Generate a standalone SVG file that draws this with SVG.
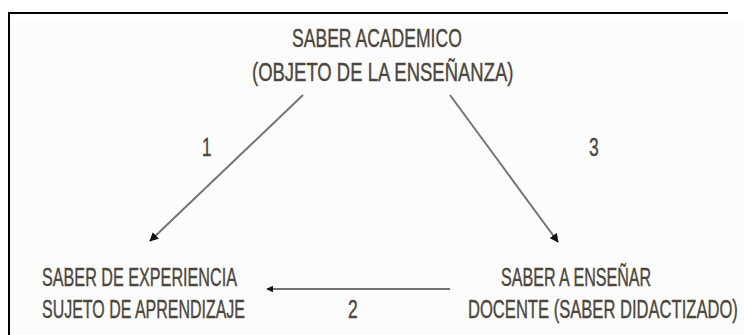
<svg xmlns="http://www.w3.org/2000/svg" width="744" height="335" viewBox="0 0 744 335">
<style>
.t{font-family:"Liberation Sans",Arial,sans-serif;font-size:25px;fill:#4d463d;stroke:#4d463d;stroke-width:0.4;}
.c{stroke:#747474;stroke-width:2;fill:none;}
</style>
<defs>
<marker id="ah" viewBox="0 0 10 10" refX="9" refY="5" markerWidth="4.5" markerHeight="4.5" orient="auto" markerUnits="strokeWidth">
<path d="M0,0 L10,5 L0,10 z" fill="#111"/>
</marker>
<marker id="ah2" viewBox="0 0 10 10" refX="9" refY="5" markerWidth="3.3" markerHeight="3.3" orient="auto" markerUnits="strokeWidth">
<path d="M0,0 L10,5 L0,10 z" fill="#111"/>
</marker>
</defs>
<rect x="0" y="0" width="744" height="335" fill="#ffffff"/>
<rect x="10" y="20" width="734" height="315" fill="#fcfcfc"/>
<g id="frame">
<line x1="8" y1="13" x2="728" y2="13" stroke="#000" stroke-width="2"/>
<line x1="9" y1="12" x2="9" y2="335" stroke="#000" stroke-width="2"/>
</g>
<g id="connectors">
<line class="c" x1="303" y1="95" x2="150" y2="241" marker-end="url(#ah)"/>
<line class="c" x1="450" y1="95" x2="558" y2="242" marker-end="url(#ah)"/>
<line class="c" x1="450" y1="289" x2="267" y2="289" stroke-width="3" marker-end="url(#ah2)"/>
<text class="t" transform="matrix(0.68 0 0 1 202 156)">1</text>
<text class="t" transform="matrix(0.7 0 0 1 348 318)">2</text>
<text class="t" transform="matrix(0.7 0 0 1 589 156)">3</text>
</g>
<g id="saber-academico">
<text class="t" transform="matrix(0.703 0 0 1 292 47)">SABER ACADEMICO</text>
<text class="t" transform="matrix(0.7396 0 0 1 252 81)">(OBJETO DE LA ENSEÑANZA)</text>
</g>
<g id="saber-experiencia">
<text class="t" transform="matrix(0.647 0 0 1 42 286)">SABER DE EXPERIENCIA</text>
<text class="t" transform="matrix(0.6395 0 0 1 42 318)">SUJETO DE APRENDIZAJE</text>
</g>
<g id="saber-ensenar">
<text class="t" transform="matrix(0.6436 0 0 1 501 286)">SABER A ENSEÑAR</text>
<text class="t" transform="matrix(0.6634 0 0 1 468 318)">DOCENTE (SABER DIDACTIZADO)</text>
</g>
</svg>
